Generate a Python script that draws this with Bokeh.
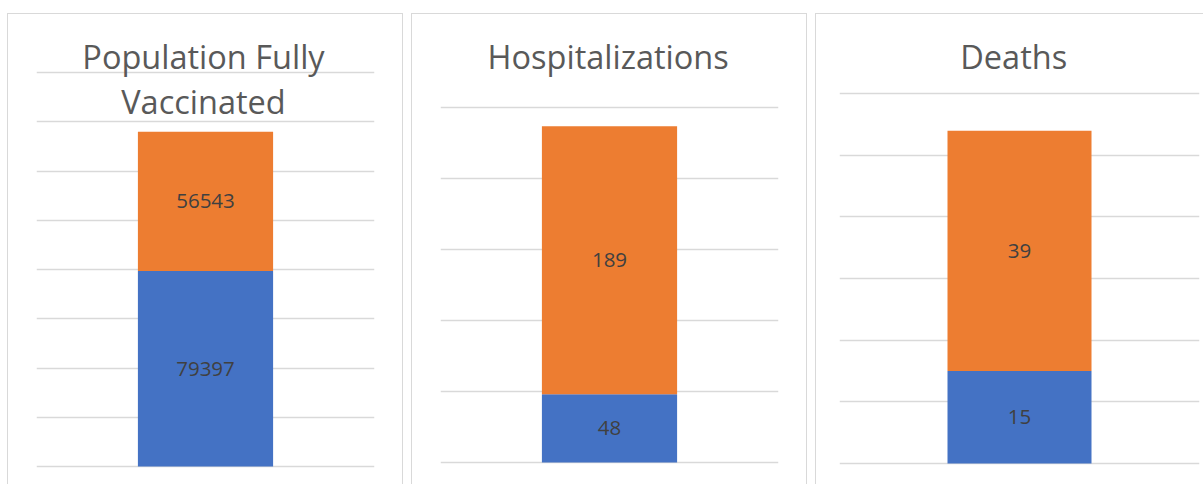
from bokeh.plotting import figure
from bokeh.layouts import row
from bokeh.models import ColumnDataSource, Range1d, Grid, SingleIntervalTicker, Label
from bokeh.core.properties import value
from bokeh.embed import file_html
from bokeh.resources import INLINE

# ---- data ----
categories = ["Population Fully Vaccinated", "Hospitalizations", "Deaths"]
title_lines = [["Population Fully", "Vaccinated"], ["Hospitalizations"], ["Deaths"]]
blue_values = [79397, 48, 15]
orange_values = [56543, 189, 39]
axis_max = [160000, 250, 60]
axis_step = [20000, 50, 10]

# ---- style ----
BLUE = "#4472C4"
ORANGE = "#ED7D31"
GRID = "#D9D9D9"
TITLE_COLOR = "#595959"
LABEL_COLOR = "#404040"
FONT = "Open Sans"

CANVAS_TOP = 14      # page y of canvas top
CANVAS_H = 470
TITLE_Y = 56         # target position for first title line
TITLE_LEAD = 45

specs = [
    dict(pad_l=28, frame_w=336, pad_r=30, zero_px=465, top_px=72, border_r=True, tx=0.494),
    dict(pad_l=28, frame_w=336, pad_r=30, zero_px=461, top_px=107, border_r=True, tx=0.496),
    dict(pad_l=23, frame_w=359, pad_r=5, zero_px=462, top_px=93, border_r=False, tx=0.484),
]


def make_panel(i):
    s = specs[i]
    vmax = axis_max[i]
    scale = vmax / (s["zero_px"] - s["top_px"])

    def v(y_page):
        return (s["zero_px"] - y_page) * scale

    y_start = v(CANVAS_TOP + CANVAS_H)
    y_end = v(CANVAS_TOP)
    nb = 2 if s["border_r"] else 1
    w = s["pad_l"] + s["frame_w"] + s["pad_r"] + nb
    p = figure(width=w, height=CANVAS_H + 1, x_range=Range1d(0, 1),
               y_range=Range1d(y_start, y_end),
               x_axis_type=None, y_axis_type=None,
               toolbar_location=None, output_backend="svg",
               min_border_left=s["pad_l"], min_border_right=s["pad_r"],
               min_border_top=0, min_border_bottom=0)
    p.outline_line_color = None
    p.background_fill_color = "white"
    p.border_fill_color = "white"

    grid = Grid(dimension=1, ticker=SingleIntervalTicker(interval=axis_step[i]),
                bounds=(0, vmax), grid_line_color=GRID, grid_line_width=1.3)
    p.add_layout(grid)

    b = blue_values[i]
    o = orange_values[i]
    src = ColumnDataSource(dict(x=[0.5], blue=[b], orange=[o]))
    p.vbar_stack(["blue", "orange"], x="x", width=0.4, color=[BLUE, ORANGE],
                 line_color=None, source=src)

    lab = ColumnDataSource(dict(x=[0.5, 0.5], y=[b / 2, b + o / 2],
                                t=[str(b), str(o)]))
    p.text(x="x", y="y", text="t", source=lab, text_align="center",
           text_baseline="middle", text_font=value(FONT),
           text_font_size="20.5px", text_color=LABEL_COLOR)

    for k, line in enumerate(title_lines[i]):
        p.add_layout(Label(x=s["tx"], y=v(TITLE_Y + TITLE_LEAD * k), text=line,
                           text_align="center", text_baseline="alphabetic",
                           text_font=FONT, text_font_size="32.5px",
                           text_color=TITLE_COLOR))

    border = f"1px solid {GRID}"
    st = {"border-top": border, "border-left": border}
    if s["border_r"]:
        st["border-right"] = border
    p.styles = st
    return p


panels = [make_panel(i) for i in range(3)]
layout = row(*panels, spacing=8, margin=(13, 0, 0, 7))

open("out.html", "w").write(file_html(layout, INLINE))
